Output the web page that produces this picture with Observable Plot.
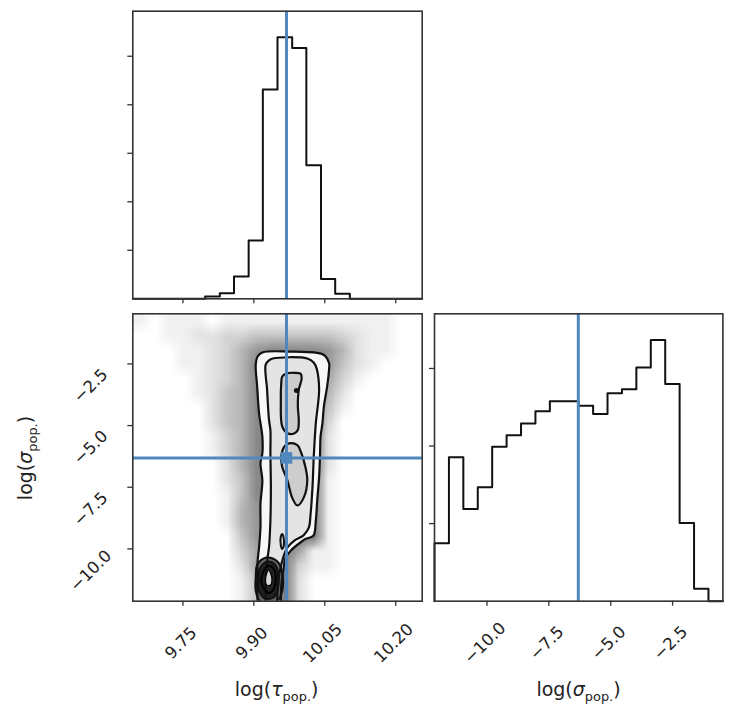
<!DOCTYPE html>
<html><head><meta charset="utf-8">
<script src="https://cdn.jsdelivr.net/npm/d3@7"></script>
<script src="https://cdn.jsdelivr.net/npm/@observablehq/plot@0.6"></script>
<style>
body{margin:0;background:#fff;}
#wrap{position:relative;width:744px;height:728px;overflow:hidden;font-family:"DejaVu Sans",sans-serif;color:#222;background:#fff;}
#wrap svg{position:absolute;overflow:visible;}
.lab{position:absolute;font-size:19px;white-space:nowrap;line-height:1;}
.lab sub{font-size:0.68em;vertical-align:-0.35em;}
</style></head><body><div id="wrap"></div>
<script>
// ---------- data ----------
const tauEdges = [9.644,9.675,9.705,9.736,9.766,9.797,9.828,9.858,9.889,9.919,9.950,9.981,10.011,10.042,10.072,10.103,10.134,10.164,10.195,10.225,10.256];
const tauCounts = [0,0,0,0,0,24,58,229,600,2158,2695,2586,1377,205,51,0,0,0,0,0];
const sigmaEdges = [-12.120,-11.537,-10.955,-10.372,-9.790,-9.207,-8.624,-8.042,-7.459,-6.877,-6.294,-5.711,-5.129,-4.546,-3.964,-3.381,-2.798,-2.216,-1.633,-1.051,-0.468];
const sigmaCounts = [187,464,297,367,498,535,573,612,644,644,630,603,670,683,753,842,700,252,40,0];
const truthTau = 9.969;
const truthSigma = -6.31;
const tauTicks = [9.75, 9.90, 10.05, 10.20];
const tauTickLabels = ["9.75","9.90","10.05","10.20"];
const sigmaTicks = [-10, -7.5, -5, -2.5];
const sigmaTickLabels = ["\u221210.0","\u22127.5","\u22125.0","\u22122.5"];
const tauCountTicks = [500,1000,1500,2000,2500];
const sigmaCountTicks = [250,500,750];
// 2D sample cloud density (20 x 20 bins, top row first), 0-9
const cloudRows = [
"10111011111111111100",
"00112233444444321100",
"00011235788887521100",
"00011235899997421000",
"00001235899996310000",
"00001245899995200000",
"00000245899994100000",
"00000245899993000000",
"00000135899992000000",
"00000135899992000000",
"00000025899992000000",
"00000024899991000000",
"00000014899991000000",
"00000015799991000000",
"00000015799991000000",
"00000004799991000000",
"00000003689611000000",
"00000002669311000000",
"00000001469200000000",
"00000001469200000000"];
// contour lines (log tau, log sigma)
const contourOuter = [[9.908,-12.2],[9.907,-11.30],[9.908,-10.48],[9.911,-9.94],[9.914,-9.12],[9.914,-8.17],[9.918,-7.22],[9.914,-6.53],[9.918,-6.13],[9.918,-5.45],[9.911,-4.50],[9.907,-3.41],[9.904,-2.53],[9.908,-2.20],[9.919,-2.03],[9.978,-2.00],[10.034,-2.05],[10.050,-2.16],[10.059,-2.46],[10.059,-2.73],[10.055,-3.41],[10.048,-4.23],[10.045,-4.91],[10.041,-5.45],[10.040,-6.13],[10.038,-7.08],[10.034,-8.03],[10.031,-8.85],[10.026,-9.46],[10.009,-9.60],[9.999,-9.73],[9.978,-10.07],[9.967,-10.36],[9.962,-10.89],[9.958,-11.50],[9.957,-12.2]];
const contourSecond = [[9.925,-12.2],[9.925,-11.30],[9.928,-10.48],[9.932,-9.94],[9.935,-8.85],[9.936,-7.49],[9.935,-6.13],[9.935,-5.18],[9.932,-4.77],[9.928,-3.55],[9.925,-2.53],[9.932,-2.36],[9.940,-2.28],[10.013,-2.28],[10.027,-2.45],[10.033,-2.70],[10.038,-3.55],[10.031,-4.91],[10.027,-6.13],[10.024,-7.49],[10.020,-8.58],[10.016,-9.15],[10.005,-9.45],[9.985,-9.67],[9.971,-9.94],[9.962,-10.35],[9.955,-10.89],[9.951,-11.50],[9.949,-12.2]];
const contourUpper = [[9.960,-3.01],[9.970,-2.88],[9.985,-2.86],[9.999,-2.90],[10.001,-3.10],[9.995,-3.55],[9.993,-4.23],[9.995,-4.77],[9.993,-5.18],[9.985,-5.32],[9.971,-5.31],[9.960,-5.04],[9.957,-3.96],[9.958,-3.27]];
const contourMiddle = [[9.964,-5.86],[9.974,-5.72],[9.992,-5.79],[9.999,-6.04],[10.009,-6.68],[10.013,-7.22],[10.006,-7.90],[9.992,-8.24],[9.981,-7.92],[9.971,-7.22],[9.960,-6.68],[9.958,-6.27]];
const contourDash = [[9.960,-9.40],[9.963,-9.55],[9.963,-9.90],[9.960,-10.0],[9.957,-9.85],[9.957,-9.50]];
const contourPeak = [[9.990,-3.58]];
const bottomLoop1 = [[9.906,-10.69],[9.919,-10.40],[9.935,-10.36],[9.952,-10.56],[9.961,-11.09],[9.959,-11.79],[9.948,-12.14],[9.914,-12.14],[9.904,-11.70],[9.904,-11.09]];
const bottomLoop2 = [[9.912,-10.81],[9.923,-10.56],[9.935,-10.52],[9.948,-10.73],[9.952,-11.18],[9.950,-11.70],[9.940,-11.99],[9.921,-11.99],[9.910,-11.62],[9.910,-11.18]];
const bottomLoop3 = [[9.919,-10.97],[9.927,-10.73],[9.935,-10.69],[9.944,-10.89],[9.946,-11.26],[9.942,-11.62],[9.931,-11.79],[9.923,-11.66],[9.916,-11.34]];
const bottomLoop4 = [[9.925,-11.18],[9.931,-10.85],[9.938,-11.18],[9.935,-11.46],[9.927,-11.46]];

// ---------- helpers ----------
const blue = "#4f88bd";
const ink = "#111";
const frameColor = "#333";
const tauDomain = [tauEdges[0], tauEdges[tauEdges.length-1]];
const sigmaDomain = [sigmaEdges[0], sigmaEdges[sigmaEdges.length-1]];
function stepPoints(edges, counts){
  const pts = [{x: edges[0], y: 0}];
  counts.forEach((c, i) => pts.push({x: edges[i], y: c}));
  pts.push({x: edges[edges.length-1], y: counts[counts.length-1]});
  pts.push({x: edges[edges.length-1], y: 0});
  return pts;
}
const cloud = cloudRows.flatMap(r => [...r].map(Number));
const svgStyle = {background: "transparent", overflow: "visible"};
const tickFont = {fontSize: 16.5, fontFamily: "DejaVu Sans", fill: "#222"};
const tauTickData = tauTicks.map((v, i) => ({v, label: tauTickLabels[i]}));
const sigmaTickData = sigmaTicks.map((v, i) => ({v, label: sigmaTickLabels[i]}));
const wrap = document.getElementById("wrap");
function place(svg, left, top){ svg.style.left = left + "px"; svg.style.top = top + "px"; wrap.appendChild(svg); }
const px = d => d[0], py = d => d[1];

// ---------- top-left: histogram of log tau ----------
const plotA = Plot.plot({
  width: 430, height: 310,
  marginLeft: 132.3, marginRight: 8.3, marginTop: 10.7, marginBottom: 11.7,
  style: svgStyle,
  x: {domain: tauDomain, label: null},
  y: {domain: [0, 1.1 * d3.max(tauCounts)], label: null},
  marks: [
    Plot.line(stepPoints(tauEdges, tauCounts), {x: "x", y: "y", curve: "step-after", stroke: ink, strokeWidth: 2}),
    Plot.ruleX([truthTau], {stroke: blue, strokeWidth: 3}),
    Plot.frame({stroke: frameColor, strokeWidth: 1.6}),
    Plot.axisX({ticks: tauTicks, tickFormat: () => "", tickSize: 5, stroke: frameColor, strokeWidth: 1.3}),
    Plot.axisY({ticks: tauCountTicks, tickFormat: () => "", tickSize: 5, stroke: frameColor, strokeWidth: 1.3})
  ]
});
place(plotA, 0, 0);

// ---------- bottom-left: 2D ----------
const plotB = Plot.plot({
  width: 430, height: 428,
  marginLeft: 132.3, marginRight: 8.3, marginTop: 13.3, marginBottom: 127.3,
  style: svgStyle,
  x: {domain: tauDomain, label: null},
  y: {domain: sigmaDomain, label: null},
  opacity: {type: "linear", domain: [0, 9], range: [0, 0.52]},
  marks: [
    Plot.raster(cloud, {width: 20, height: 20, x1: tauDomain[0], x2: tauDomain[1], y1: sigmaDomain[1], y2: sigmaDomain[0], fill: "#000", fillOpacity: d => d, imageRendering: "auto"}),
    Plot.line(contourOuter, {x: px, y: py, curve: "catmull-rom", fill: "#f7f7f7", stroke: "none", clip: true}),
    Plot.line(contourSecond, {x: px, y: py, curve: "catmull-rom", fill: "#e4e4e4", stroke: "none", clip: true}),
    Plot.line(contourUpper, {x: px, y: py, curve: "catmull-rom-closed", fill: "#cdcdcd", stroke: "none"}),
    Plot.line(contourMiddle, {x: px, y: py, curve: "catmull-rom-closed", fill: "#cdcdcd", stroke: "none"}),
    Plot.line(bottomLoop1, {x: px, y: py, curve: "catmull-rom-closed", fill: "#666", stroke: "none", clip: true}),
    Plot.line(bottomLoop2, {x: px, y: py, curve: "catmull-rom-closed", fill: "#222", stroke: "none", clip: true}),
    Plot.line(contourOuter, {x: px, y: py, curve: "catmull-rom", stroke: ink, strokeWidth: 2.2, clip: true}),
    Plot.line(contourSecond, {x: px, y: py, curve: "catmull-rom", stroke: ink, strokeWidth: 2.2, clip: true}),
    Plot.line(contourUpper, {x: px, y: py, curve: "catmull-rom-closed", stroke: ink, strokeWidth: 2.2}),
    Plot.line(contourMiddle, {x: px, y: py, curve: "catmull-rom-closed", stroke: ink, strokeWidth: 2.2}),
    Plot.line(contourDash, {x: px, y: py, curve: "catmull-rom-closed", stroke: ink, strokeWidth: 2}),
    Plot.line(bottomLoop1, {x: px, y: py, curve: "catmull-rom-closed", stroke: ink, strokeWidth: 2, clip: true}),
    Plot.line(bottomLoop2, {x: px, y: py, curve: "catmull-rom-closed", stroke: ink, strokeWidth: 2, clip: true}),
    Plot.line(bottomLoop3, {x: px, y: py, curve: "catmull-rom-closed", stroke: "#000", strokeWidth: 2, clip: true}),
    Plot.line(bottomLoop4, {x: px, y: py, curve: "catmull-rom-closed", fill: "#d8d8d8", stroke: "#000", strokeWidth: 1.2, clip: true}),
    Plot.dot(contourPeak, {x: px, y: py, r: 2.5, fill: ink}),
    Plot.ruleX([truthTau], {stroke: blue, strokeWidth: 3}),
    Plot.ruleY([truthSigma], {stroke: blue, strokeWidth: 3}),
    Plot.dot([[truthTau, truthSigma]], {x: px, y: py, symbol: "square", r: 6.5, fill: blue}),
    Plot.frame({stroke: frameColor, strokeWidth: 1.6}),
    Plot.axisX({ticks: tauTicks, tickFormat: () => "", tickSize: 5, stroke: frameColor, strokeWidth: 1.3}),
    Plot.axisY({ticks: sigmaTicks, tickFormat: () => "", tickSize: 5, stroke: frameColor, strokeWidth: 1.3}),
    Plot.text(tauTickData, {x: "v", text: "label", frameAnchor: "bottom", rotate: -45, textAnchor: "middle", lineAnchor: "middle", dx: -2, dy: 42, ...tickFont}),
    Plot.text(sigmaTickData, {y: "v", text: "label", frameAnchor: "left", rotate: -45, textAnchor: "middle", lineAnchor: "middle", dx: -42, dy: 22, ...tickFont})
  ]
});
place(plotB, 0, 300);

// ---------- bottom-right: histogram of log sigma ----------
const plotC = Plot.plot({
  width: 317.7, height: 428,
  marginLeft: 8, marginRight: 21.3, marginTop: 13.3, marginBottom: 127.3,
  style: svgStyle,
  x: {domain: sigmaDomain, label: null},
  y: {domain: [0, 1.1 * d3.max(sigmaCounts)], label: null},
  marks: [
    Plot.line(stepPoints(sigmaEdges, sigmaCounts), {x: "x", y: "y", curve: "step-after", stroke: ink, strokeWidth: 2}),
    Plot.ruleX([truthSigma], {stroke: blue, strokeWidth: 3}),
    Plot.frame({stroke: frameColor, strokeWidth: 1.6}),
    Plot.axisX({ticks: sigmaTicks, tickFormat: () => "", tickSize: 5, stroke: frameColor, strokeWidth: 1.3}),
    Plot.axisY({ticks: sigmaCountTicks, tickFormat: () => "", tickSize: 5, stroke: frameColor, strokeWidth: 1.3}),
    Plot.text(sigmaTickData, {x: "v", text: "label", frameAnchor: "bottom", rotate: -45, textAnchor: "middle", lineAnchor: "middle", dx: -2, dy: 42, ...tickFont})
  ]
});
place(plotC, 426.3, 300);

// ---------- axis labels ----------
function label(html, left, top, rot){
  const d = document.createElement("div");
  d.className = "lab";
  d.innerHTML = html;
  d.style.left = left + "px"; d.style.top = top + "px";
  d.style.transform = "translate(-50%,-50%)" + (rot ? " rotate(" + rot + "deg)" : "");
  wrap.appendChild(d);
}
label("log(<i>\u03c4</i><sub>pop.</sub>)", 276.6, 692, 0);
label("log(<i>\u03c3</i><sub>pop.</sub>)", 578.5, 692, 0);
label("log(<i>\u03c3</i><sub>pop.</sub>)", 27.5, 458, -90);
</script></body></html>
